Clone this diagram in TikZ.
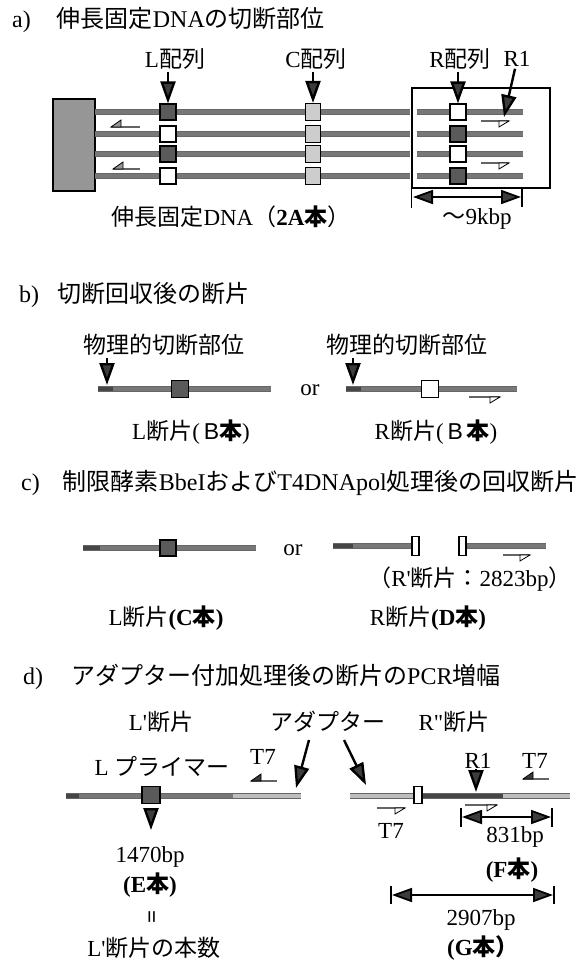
\documentclass[tikz,border=0pt]{standalone}
\usepackage{fontspec}
\setmainfont{Liberation Serif}
\newfontfamily\jp{Noto Sans CJK JP}
\newfontfamily\sansb{Liberation Sans}
\newfontfamily\plainserif{Liberation Serif}
\usetikzlibrary{arrows.meta}
\definecolor{strandc}{RGB}{120,120,120}
\definecolor{darkseg}{RGB}{70,70,70}
\definecolor{lightseg}{RGB}{190,190,190}
\definecolor{boxdark}{RGB}{90,90,90}
\definecolor{boxlight}{RGB}{205,205,205}
\definecolor{headc}{RGB}{60,60,60}
\definecolor{primc}{RGB}{100,100,100}
\definecolor{anchorc}{RGB}{150,150,150}

\newcommand\primerR[4]{%
  \draw[line width=1.8pt, draw=primc] (#1,#3) -- (#2,#3);
  \filldraw[fill=#4, draw=black, line width=0.8pt] (#2,#3) -- ({#2-10},#3) -- ({#2-10},{#3+6}) -- cycle;}
\newcommand\primerL[4]{%
  \draw[line width=1.8pt, draw=primc] (#1,#3) -- (#2,#3);
  \filldraw[fill=#4, draw=black, line width=0.8pt] (#1,#3) -- ({#1+10},#3) -- ({#1+10},{#3-7}) -- cycle;}

\tikzset{
  lbl/.style={font=\fontsize{23}{25}\selectfont, inner sep=0pt},
  ttl/.style={font=\fontsize{24}{26}\selectfont, inner sep=0pt, anchor=west},
  sq/.style={draw=black, line width=1.2pt, minimum width=16pt, minimum height=16pt, inner sep=0pt},
  sqdark/.style={sq, fill=boxdark},
  sqwhite/.style={sq, fill=white},
  sqlight/.style={sq, fill=boxlight},
  cutbar/.style={draw=black, line width=1.1pt, fill=white, minimum width=7pt, minimum height=19pt, inner sep=0pt},
  dna/.style={double=#1, double distance=4.6pt, line width=0.6pt, draw=black!60},
  downarr/.style={line width=2.4pt, draw=black, -{Triangle[length=22pt,width=15pt,fill=headc]}},
  dimarr/.style={line width=1.8pt, draw=black, {Triangle[length=20pt,width=14pt,fill=headc]}-{Triangle[length=20pt,width=14pt,fill=headc]}},
  dimtick/.style={line width=1.6pt, draw=black},
  rframe/.style={draw=black, line width=1.4pt, inner sep=0pt},
}

\begin{document}
\begin{tikzpicture}[x=1pt,y=-1pt]
\useasboundingbox[fill=white] (0,0) rectangle (586,962);

% ---------------- a) ----------------
\node[ttl] (ta) at (12,20) {a)\hspace{26pt}{\jp 伸長固定}DNA{\jp の切断部位}};

\node[draw=black, line width=1.6pt, fill=anchorc, minimum width=42pt, minimum height=92pt, inner sep=0pt] (anchorbox) at (74,145) {};
\node[rframe, minimum width=138pt, minimum height=100pt] (rbox) at (481,138) {};

\foreach \yy in {112,134,154,176}{
  \draw[dna=strandc] (95,\yy) -- (410,\yy);
  \draw[dna=strandc] (417,\yy) -- (523,\yy);
}
\node[sqdark]  (La) at (168,112) {};
\node[sqwhite] (Lb) at (168,134) {};
\node[sqdark]  (Lc) at (168,154) {};
\node[sqwhite] (Ld) at (168,176) {};
\node[sqlight, minimum width=15pt, minimum height=17pt] (Ca) at (313,112) {};
\node[sqlight, minimum width=15pt, minimum height=17pt] (Cb) at (313,134) {};
\node[sqlight, minimum width=15pt, minimum height=17pt] (Cc) at (313,154) {};
\node[sqlight, minimum width=15pt, minimum height=17pt] (Cd) at (313,176) {};
\node[sqwhite] (Ra) at (458,112) {};
\node[sqdark]  (Rb) at (458,134) {};
\node[sqwhite] (Rc) at (458,154) {};
\node[sqdark]  (Rd) at (458,176) {};

\primerL{111}{140}{127}{anchorc}
\primerL{113}{140}{169}{anchorc}
\primerR{481}{509}{121}{white}
\primerR{481}{509}{163}{white}

\node[lbl] (labL) at (175,59) {L{\jp 配列}};
\node[lbl] (labC) at (316,59) {C{\jp 配列}};
\node[lbl] (labR) at (460,59) {R{\jp 配列}};
\node[lbl] (labRone) at (517,59) {R1};
\draw[downarr] ([yshift=-2pt]La.north |- labL.south) -- (La.north);
\draw[downarr] ([yshift=-2pt]Ca.north |- labC.south) -- (Ca.north);
\draw[downarr] ([yshift=-2pt]Ra.north |- labR.south) -- (Ra.north);
\coordinate (ronetip) at (504,117);
\draw[downarr] ([xshift=-2pt,yshift=-2pt]labRone.south) -- (ronetip);

\coordinate (dimAL) at (413,197);
\coordinate (dimAR) at (521,197);
\draw[dimtick] (rbox.south west) -- ++(0,19);
\draw[dimtick] (522,189) -- (522,207);
\draw[dimarr] (dimAL) -- (dimAR);

\node[lbl] (capa) at (231,217) {{\jp 伸長固定}DNA{\jp （}\textbf{2A{\jp 本}}{\jp ）}};
\node[lbl] (kbp) at (477,219) {{\jp ～}9kbp};

% ---------------- b) ----------------
\node[ttl] (tb) at (19,295) {b)\hspace{18pt}{\jp 切断回収後の断片}};
\node[lbl] (cutL) at (164,345) {{\jp 物理的切断部位}};
\node[lbl] (cutR) at (407,345) {{\jp 物理的切断部位}};

\draw[dna=darkseg] (98,389) -- (113,389);
\draw[dna=strandc] (113,389) -- (271,389);
\node[sqdark, minimum size=17pt] (bLsq) at (180,389) {};
\coordinate (bLcut) at (107,385);
\draw[downarr] ([yshift=-2pt]bLcut |- cutL.south) -- (bLcut);

\node[lbl] (orb) at (310,390) {or};

\draw[dna=darkseg] (346,389) -- (361,389);
\draw[dna=strandc] (361,389) -- (517,389);
\node[sqwhite, minimum size=17pt] (bRsq) at (430,389) {};
\primerR{469}{500}{397}{white}
\coordinate (bRcut) at (353,385);
\draw[downarr] ([yshift=-2pt]bRcut |- cutR.south) -- (bRcut);

\node[lbl] (bLlab) at (191,432) {L{\jp 断片}(\,{\sansb B}{\jp\bfseries 本})};
\node[lbl] (bRlab) at (436,432) {R{\jp 断片}(\,{\sansb B}\,{\jp\bfseries 本})};

% ---------------- c) ----------------
\node[ttl] (tc) at (21,483) {c)\hspace{23pt}{\jp 制限酵素}BbeI{\jp および}T4DNApol{\jp 処理後の回収断片}};

\draw[dna=darkseg] (83,548) -- (100,548);
\draw[dna=strandc] (100,548) -- (256,548);
\node[sqdark, minimum size=16pt] (cLsq) at (168,548) {};
\node[lbl] (orc) at (293,550) {or};

\draw[dna=darkseg] (333,546) -- (353,546);
\draw[dna=strandc] (353,546) -- (412,546);
\node[cutbar] (cbarA) at (415.5,546) {};
\node[cutbar] (cbarB) at (462.5,546) {};
\draw[dna=strandc] (cbarB.east) -- (546,546);
\primerR{503}{530}{555}{white}

\node[lbl] (rprime) at (470,579) {{\jp （}R{\plainserif '}{\jp 断片：}2823bp{\jp ）}};
\node[lbl] (cLlab) at (166,618) {L{\jp 断片}\textbf{(C{\jp 本})}};
\node[lbl] (cRlab) at (428,618) {R{\jp 断片}\textbf{(D{\jp 本})}};

% ---------------- d) ----------------
\node[ttl] (td) at (23,677) {d)\hspace{28pt}{\jp アダプター付加処理後の断片の}PCR{\jp 増幅}};

\node[lbl] (dLfrag) at (161,722) {L{\plainserif '}{\jp 断片}};
\node[lbl] (dAdapt) at (328,722) {{\jp アダプター}};
\node[lbl] (dRfrag) at (454,722) {R{\plainserif "}{\jp 断片}};
\node[lbl] (dLprim) at (162,766) {L {\jp プライマー}};
\node[lbl] (dTa) at (263,757) {T7};
\primerL{251}{277}{781}{headc}

\draw[dna=darkseg] (66,796) -- (79,796);
\draw[dna=strandc] (79,796) -- (233,796);
\draw[dna=lightseg] (233,796) -- (301,796);
\node[sqdark, minimum width=18pt, minimum height=17pt] (dsq) at (151,795) {};
\coordinate (dLdown) at (151,830);
\draw[downarr] ([yshift=-4pt]dsq.south) -- (dLdown);

\coordinate (adAs) at (309,740);
\coordinate (adAe) at (296,788);
\coordinate (adBs) at (344,740);
\coordinate (adBe) at (366,785);
\draw[downarr] (adAs) -- (adAe);
\draw[downarr] (adBs) -- (adBe);

\node[lbl] (dbp) at (150,857) {1470bp};
\node[lbl] (dE) at (150,885) {\textbf{(E{\jp 本})}};
\node[lbl, rotate=90, font=\fontsize{23}{25}\selectfont\bfseries] (deq) at (154,917) {=};
\node[lbl] (dcount) at (154,948) {L{\plainserif '}{\jp 断片の本数}};

\draw[dna=lightseg] (350,796) -- (414,796);
\draw[dna=darkseg] (422,796) -- (503,796);
\draw[dna=lightseg] (503,796) -- (570,796);
\node[cutbar, minimum width=8pt, minimum height=17pt] (dbar) at (418,795) {};

\primerR{377}{405}{808}{white}
\node[lbl] (dTb) at (391,831) {T7};
\node[lbl] (dRone) at (478,761) {R1};
\coordinate (dRonetip) at (476,792);
\draw[downarr] (dRonetip |- dRone.south) -- (dRonetip);
\node[lbl] (dTc) at (535,761) {T7};
\primerL{523}{549}{779}{headc}
\primerR{465}{497}{805}{white}

\coordinate (dimFL) at (462,817);
\coordinate (dimFR) at (551,817);
\draw[dimtick] (461,808) -- (461,827);
\draw[dimtick] (552,808) -- (552,827);
\draw[dimarr] (dimFL) -- (dimFR);
\node[lbl] (d831) at (515,837) {831bp};
\node[lbl] (dF) at (512,870) {\textbf{(F{\jp 本})}};

\coordinate (dimGL) at (392,895);
\coordinate (dimGR) at (553,895);
\draw[dimtick] (391,886) -- (391,904);
\draw[dimtick] (554,886) -- (554,904);
\draw[dimarr] (dimGL) -- (dimGR);
\node[lbl] (d2907) at (481,920) {2907bp};
\node[lbl] (dG) at (483,948) {\textbf{(G{\jp 本）}}};
\end{tikzpicture}
\end{document}
